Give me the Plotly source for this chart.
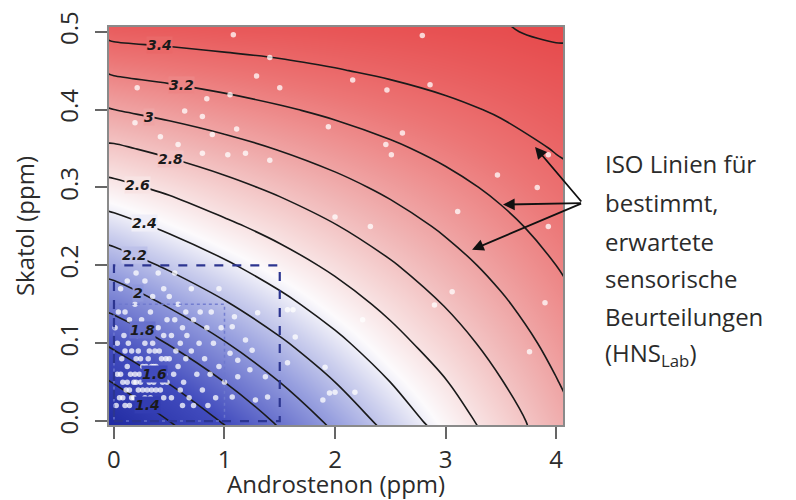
import plotly.graph_objects as go
from plotly.colors import sample_colorscale

# ---- grid (Androstenon ppm, Skatol ppm) and expected sensory score read from the iso-lines ----
x_grid = [-0.05, 0.0, 0.5, 1.0, 1.5, 2.0, 2.5, 3.0, 3.5, 4.0, 4.1]
y_grid = [-0.01, 0.0, 0.05, 0.10, 0.15, 0.20, 0.25, 0.30, 0.35, 0.40, 0.45, 0.50, 0.51]

# columns per x value (bottom -> top)
col_m005 = [1.11, 1.16, 1.39, 1.62, 1.85, 2.08, 2.31, 2.54, 2.77, 2.99, 3.22, 3.45, 3.50]
col_000 = [1.13, 1.18, 1.41, 1.64, 1.86, 2.09, 2.32, 2.55, 2.77, 3.00, 3.23, 3.46, 3.50]
col_050 = [1.36, 1.40, 1.61, 1.81, 2.02, 2.23, 2.44, 2.64, 2.85, 3.06, 3.27, 3.48, 3.52]
col_100 = [1.58, 1.62, 1.80, 1.99, 2.18, 2.37, 2.56, 2.74, 2.93, 3.12, 3.31, 3.50, 3.52]
col_150 = [1.80, 1.83, 2.00, 2.17, 2.34, 2.51, 2.67, 2.84, 3.01, 3.18, 3.35, 3.51, 3.53]
col_200 = [2.02, 2.05, 2.20, 2.35, 2.50, 2.64, 2.79, 2.94, 3.09, 3.24, 3.39, 3.53, 3.55]
col_250 = [2.24, 2.27, 2.40, 2.53, 2.65, 2.78, 2.91, 3.04, 3.17, 3.30, 3.43, 3.55, 3.56]
col_300 = [2.46, 2.49, 2.59, 2.70, 2.81, 2.92, 3.03, 3.14, 3.25, 3.36, 3.47, 3.57, 3.58]
col_350 = [2.69, 2.70, 2.79, 2.88, 2.97, 3.06, 3.15, 3.24, 3.33, 3.42, 3.51, 3.59, 3.595]
col_400 = [2.91, 2.92, 2.99, 3.06, 3.13, 3.20, 3.27, 3.34, 3.41, 3.48, 3.55, 3.62, 3.63]
col_410 = [2.95, 2.96, 3.03, 3.10, 3.16, 3.23, 3.29, 3.36, 3.42, 3.49, 3.55, 3.62, 3.63]

columns = [col_m005, col_000, col_050, col_100, col_150, col_200, col_250,
           col_300, col_350, col_400, col_410]
z_grid = [[columns[i][j] for i in range(len(x_grid))] for j in range(len(y_grid))]

# ---- iso-line labels ----
label_text = ["1.4", "1.6", "1.8", "2", "2.2", "2.4", "2.6", "2.8", "3", "3.2", "3.4"]
label_val = [1.4, 1.6, 1.8, 2.0, 2.2, 2.4, 2.6, 2.8, 3.0, 3.2, 3.4]
label_x = [0.30, 0.37, 0.26, 0.22, 0.19, 0.28, 0.21, 0.51, 0.32, 0.61, 0.41]
label_y = [0.021, 0.061, 0.117, 0.165, 0.213, 0.254, 0.303, 0.337, 0.391, 0.431, 0.483]

# ---- samples (white dots) ----
pts_x = [
    0.05, 0.08, 0.10, 0.12, 0.14, 0.16, 0.18, 0.19, 0.21, 0.22, 0.24, 0.25, 0.27, 0.28, 0.30, 0.31,
    0.33, 0.34, 0.36, 0.37, 0.39, 0.40, 0.42, 0.43, 0.45, 0.46, 0.48, 0.50, 0.52, 0.54, 0.07, 0.09,
    0.11, 0.13, 0.15, 0.17, 0.20, 0.23, 0.26, 0.29, 0.32, 0.35, 0.38, 0.41, 0.44, 0.47, 0.06, 0.10,
    0.14, 0.18, 0.22, 0.26, 0.30, 0.34, 0.38, 0.42, 0.16, 0.20, 0.24, 0.28, 0.32, 0.36, 0.12, 0.08,
    0.58, 0.60, 0.63, 0.65, 0.68, 0.56,
    0.03, 0.04, 0.06, 0.10, 0.14, 0.12, 0.19, 0.25, 0.30, 0.33, 0.40, 0.45, 0.48, 0.52, 0.55, 0.60,
    0.62, 0.66, 0.70, 0.72, 0.75, 0.77, 0.80, 0.82, 0.84, 0.87, 0.90, 0.92, 0.95, 0.97, 0.72, 0.62,
    0.85, 0.02, 0.03, 0.58, 0.65, 0.78, 0.88, 0.35, 0.45, 0.28, 0.50, 0.70, 0.20, 0.40, 0.55, 0.95,
    1.00, 0.01,
    1.07, 1.12, 1.19, 1.25, 1.37, 1.39, 1.23, 1.05, 1.09, 1.64, 1.12, 1.30, 1.57, 1.91, 1.95, 1.07,
    1.28, 1.62, 1.89, 2.00, 2.18, 1.57, 2.25, 2.32, 2.00, 3.06, 2.90, 3.90, 3.76, 3.11, 3.93,
    1.08, 1.41, 1.29, 0.21, 0.84, 1.05, 1.50, 0.64, 0.80, 1.11, 0.19, 0.42, 0.89, 1.03, 1.19, 1.41,
    0.80, 0.58, 2.79, 2.16, 2.47, 1.94, 2.61, 2.46, 2.51, 3.47, 3.93, 3.83, 2.86,
]
pts_y = [
    0.03, 0.05, 0.02, 0.07, 0.04, 0.09, 0.03, 0.06, 0.11, 0.04, 0.08, 0.02, 0.06, 0.10, 0.04, 0.08,
    0.03, 0.07, 0.05, 0.09, 0.02, 0.06, 0.04, 0.08, 0.03, 0.06, 0.05, 0.08, 0.03, 0.06, 0.08, 0.11,
    0.04, 0.10, 0.06, 0.12, 0.08, 0.06, 0.04, 0.07, 0.05, 0.10, 0.07, 0.09, 0.05, 0.08, 0.06, 0.09,
    0.02, 0.05, 0.09, 0.07, 0.06, 0.04, 0.04, 0.06, 0.03, 0.05, 0.05, 0.03, 0.09, 0.07, 0.05, 0.03,
    0.07, 0.04, 0.05, 0.08, 0.03, 0.09,
    0.10, 0.14, 0.17, 0.14, 0.13, 0.18, 0.15, 0.13, 0.12, 0.14, 0.12, 0.11, 0.13, 0.11, 0.13, 0.10,
    0.12, 0.11, 0.09, 0.13, 0.06, 0.10, 0.04, 0.08, 0.12, 0.06, 0.10, 0.03, 0.07, 0.12, 0.02, 0.02,
    0.02, 0.02, 0.06, 0.15, 0.14, 0.14, 0.14, 0.16, 0.17, 0.18, 0.16, 0.17, 0.19, 0.19, 0.19, 0.17,
    0.05, 0.12,
    0.121, 0.078, 0.104, 0.091, 0.057, 0.031, 0.066, 0.087, 0.134, 0.108, 0.057, 0.139, 0.143, 0.069, 0.036, 0.031,
    0.027, 0.143, 0.027, 0.037, 0.037, 0.075, 0.130, 0.250, 0.262, 0.166, 0.149, 0.152, 0.089, 0.269, 0.250,
    0.496, 0.467, 0.443, 0.428, 0.414, 0.419, 0.428, 0.398, 0.391, 0.375, 0.383, 0.365, 0.368, 0.342, 0.344, 0.335,
    0.344, 0.355, 0.495, 0.438, 0.425, 0.378, 0.370, 0.355, 0.342, 0.316, 0.342, 0.300, 0.432,
]

colorscale = [
    [0.00, "rgb(30,40,160)"],
    [0.20, "rgb(66,76,190)"],
    [0.37, "rgb(152,160,223)"],
    [0.46, "rgb(206,209,238)"],
    [0.53, "rgb(252,250,252)"],
    [0.62, "rgb(246,214,214)"],
    [0.71, "rgb(240,178,178)"],
    [0.86, "rgb(236,118,118)"],
    [1.00, "rgb(230,70,72)"],
]
zmin, zmax = 1.1, 3.65

text_color = "#2b2b2b"
font_family = "Open Sans, Noto Sans, sans-serif"

fig = go.Figure()

fig.add_trace(go.Contour(
    x=x_grid, y=y_grid, z=z_grid,
    zmin=zmin, zmax=zmax, colorscale=colorscale, showscale=False,
    contours=dict(start=1.4, end=3.6, size=0.2, coloring="heatmap", showlabels=False),
    line=dict(color="#1a1a1a", width=1.6, smoothing=1.0),
    hoverinfo="skip",
))

fig.add_trace(go.Scatter(
    x=pts_x, y=pts_y, mode="markers",
    marker=dict(color="white", size=5.5, opacity=0.75, line=dict(width=0)),
    hoverinfo="skip", showlegend=False,
))

# dashed selection rectangles
fig.add_shape(type="rect", xref="x", yref="y", x0=0, y0=0, x1=1.0, y1=0.15,
              line=dict(color="rgba(110,120,205,0.9)", width=1.5, dash="dot"))
fig.add_shape(type="rect", xref="x", yref="y", x0=0, y0=0, x1=1.5, y1=0.2,
              line=dict(color="#2c3590", width=2.2, dash="dash"))

annotations = []
for t, v, lx, ly in zip(label_text, label_val, label_x, label_y):
    bg = sample_colorscale(colorscale, [(v - zmin) / (zmax - zmin)])[0]
    annotations.append(dict(
        x=lx, y=ly, xref="x", yref="y", text="<b><i>%s</i></b>" % t, showarrow=False,
        font=dict(family="DejaVu Sans, sans-serif", size=14, color="#1a1a1a"),
        bgcolor=bg, borderpad=0,
    ))

# arrows to iso-lines
arrow_tail_x, arrow_tail_y = 4.24, 0.28
arrow_heads = [(3.81, 0.352), (3.52, 0.278), (3.24, 0.22)]
for hx, hy in arrow_heads:
    annotations.append(dict(
        x=hx, y=hy, xref="x", yref="y", ax=arrow_tail_x, ay=arrow_tail_y,
        axref="x", ayref="y", text="", showarrow=True,
        arrowhead=2, arrowsize=1.3, arrowwidth=1.8, arrowcolor="#111111",
    ))

side_lines = ["ISO Linien für", "bestimmt,", "erwartete", "sensorische",
              "Beurteilungen", "(HNS<sub>Lab</sub>)"]
side_y = [0.658, 0.560, 0.462, 0.367, 0.272, 0.178]
for s, sy in zip(side_lines, side_y):
    annotations.append(dict(
        x=1.088, y=sy, xref="paper", yref="paper", text=s, showarrow=False,
        xanchor="left", yanchor="middle",
        font=dict(family=font_family, size=24, color=text_color),
    ))

# axis titles
annotations.append(dict(
    x=0.5, y=-0.148, xref="paper", yref="paper", text="Androstenon (ppm)", showarrow=False,
    xanchor="center", yanchor="middle", font=dict(family=font_family, size=24, color=text_color),
))
annotations.append(dict(
    x=-0.187, y=0.5, xref="paper", yref="paper", text="Skatol (ppm)", showarrow=False,
    textangle=-90, xanchor="center", yanchor="middle",
    font=dict(family=font_family, size=24, color=text_color),
))

# page body has an 8px margin: size the figure so that the plot area lands where the reference has it
fig.update_layout(
    width=788, height=492,
    margin=dict(l=101, r=233, t=19, b=75, autoexpand=False),
    paper_bgcolor="white", plot_bgcolor="white",
    showlegend=False,
    font=dict(family=font_family, color=text_color),
    annotations=annotations,
    xaxis=dict(
        range=[-0.045, 4.063], tickmode="array", tickvals=[0, 1, 2, 3, 4],
        ticktext=["0", "1", "2", "3", "4"], automargin=False,
        ticks="outside", ticklen=12, tickwidth=2, tickcolor="#666666",
        ticklabelstandoff=0,
        showgrid=False, zeroline=False,
        showline=True, linecolor="#8a8a8a", linewidth=1.5, mirror=True,
        tickfont=dict(size=24, color=text_color),
    ),
    yaxis=dict(
        range=[-0.005, 0.506], tickmode="array", tickvals=[0, 0.1, 0.2, 0.3, 0.4, 0.5],
        ticktext=["0.0", "0.1", "0.2", "0.3", "0.4", "0.5"], tickangle=-90, automargin=False,
        ticks="outside", ticklen=12, tickwidth=2, tickcolor="#666666",
        ticklabelstandoff=8,
        showgrid=False, zeroline=False,
        showline=True, linecolor="#8a8a8a", linewidth=1.5, mirror=True,
        tickfont=dict(size=24, color=text_color),
    ),
)

fig.write_html("out.html")
